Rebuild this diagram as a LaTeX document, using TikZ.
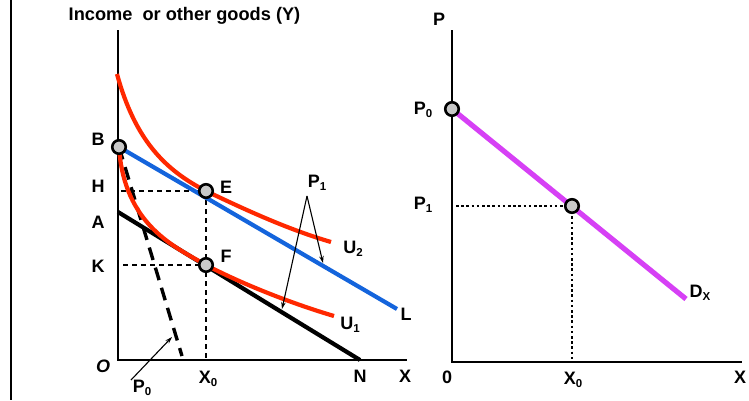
\documentclass[tikz,border=0pt]{standalone}
\usepackage{fontspec}
\setmainfont{Liberation Sans}
\usetikzlibrary{arrows.meta}
\definecolor{ured}{RGB}{255,40,0}
\definecolor{lblue}{RGB}{20,100,220}
\definecolor{dmag}{RGB}{214,64,245}
\definecolor{dotgray}{RGB}{200,200,200}
\newcommand{\sbs}[1]{\raisebox{-0.35ex}{\fontsize{11.5}{11.5}\selectfont #1}}
\tikzset{
  lbl/.style={font=\bfseries\fontsize{18}{18}\selectfont, inner sep=0pt},
  ttl/.style={font=\bfseries\fontsize{18.2}{18}\selectfont, inner sep=0pt},
  pt/.style={circle, draw=black, line width=2.6pt, fill=dotgray, minimum size=13.5pt, inner sep=0pt},
  axis/.style={line width=1.7pt, black},
  guide/.style={line width=1.4pt, dash pattern=on 5pt off 4pt},
  dotguide/.style={line width=2.8pt, dash pattern=on 2.6pt off 2.6pt},
  thinarrow/.style={line width=1.1pt, -{Stealth[length=7pt,width=4.5pt]}},
}
\begin{document}
\begin{tikzpicture}[x=1pt,y=-1pt]
\useasboundingbox (0,0) rectangle (749,400);
% left frame line
\draw[line width=2.4pt] (11,0) -- (11,400);

% ---------- left panel ----------
\coordinate (O) at (118,360);
\coordinate (Ytop) at (118,30);
\coordinate (Xend) at (407,360);
\draw[axis] (Ytop) -- (O) -- (Xend);
\node[ttl] (title) at (184.5,16) {Income\ \ or other goods (Y)};

\coordinate (B) at (119,147);
\coordinate (E) at (206,191);
\coordinate (F) at (206,265);
\coordinate (A) at (118,212);
\coordinate (N) at (360,360);
\coordinate (Lend) at (397,309);
\coordinate (Hl) at (121,191);
\coordinate (Kl) at (123,265);
\coordinate (X0b) at (206,360);
\coordinate (P0end) at (182,356);

% guides
\draw[guide] (Hl) -- (E);
\draw[guide] (Kl) -- (F);
\draw[guide] (E) -- (X0b);

% budget lines
\draw[line width=4.2pt, black] (A) -- (N);
\draw[line width=4.2pt, lblue] (B) -- (Lend);
% thick dashed P0 line
\draw[line width=3.4pt, dash pattern=on 13pt off 8pt] (B) -- (P0end);

% indifference curves
\draw[line width=4.2pt, ured] (117,74) .. controls (135,140) and (165,170) .. (E)
  .. controls (250,212) and (290,230) .. (331,242);
\draw[line width=4.2pt, ured] (B) .. controls (124,225) and (175,247) .. (F)
  .. controls (240,283) and (290,303) .. (334,316);

% points
\node[pt] (Bp) at (B) {};
\node[pt] (Ep) at (E) {};
\node[pt] (Fp) at (F) {};

% labels
\node[lbl] (Bl) at (98,139) {B};
\node[lbl] (Hlab) at (98,186) {H};
\node[lbl] (Al) at (98,222) {A};
\node[lbl] (Klab) at (98,266) {K};
\node[lbl] (El) at (226,187) {E};
\node[lbl] (Fl) at (226,256) {F};
\node[lbl] (U2) at (353,249) {U\sbs{2}};
\node[lbl] (U1) at (350,325) {U\sbs{1}};
\node[lbl] (Ll) at (406,314) {L};
\node[lbl, font=\bfseries\itshape\fontsize{18}{18}\selectfont] (Ol) at (103,366) {O};
\node[lbl] (X0l) at (208,379) {X\sbs{0}};
\node[lbl] (Nl) at (360,376) {N};
\node[lbl] (Xl) at (405,376) {X};
\node[lbl] (P0l) at (142,388) {P\sbs{0}};
\node[lbl] (P1l) at (317,183) {P\sbs{1}};

% arrows
\coordinate (P1apex) at (307,196);
\coordinate (P1a) at (323,263);
\coordinate (P1b) at (282,309);
\draw[thinarrow] (P1apex) -- (P1a);
\draw[thinarrow] (P1apex) -- (P1b);
\coordinate (P0tail) at (131,380);
\coordinate (P0head) at (172,337);
\draw[thinarrow] (P0tail) -- (P0head);

% ---------- right panel ----------
\coordinate (O2) at (452,362);
\coordinate (Y2top) at (452,30);
\coordinate (X2end) at (742,362);
\draw[axis] (Y2top) -- (O2) -- (X2end);
\coordinate (D0) at (452,109);
\coordinate (D1) at (572,206);
\coordinate (Dend) at (686,299);
\coordinate (P1y) at (456,206);
\coordinate (X0x) at (572,362);
\draw[dotguide] (P1y) -- (D1);
\draw[dotguide] (D1) -- (X0x);
\draw[line width=5.2pt, dmag] (D0) -- (Dend);
\node[pt] (D0p) at (D0) {};
\node[pt] (D1p) at (D1) {};

\node[lbl] (Pl) at (439,19) {P};
\node[lbl] (P0r) at (423,110) {P\sbs{0}};
\node[lbl] (P1r) at (423,205) {P\sbs{1}};
\node[lbl] (Dxl) at (700,293) {D\sbs{X}};
\node[lbl] (Zl) at (447,377) {0};
\node[lbl] (X0r) at (573,380) {X\sbs{0}};
\node[lbl] (X2l) at (740,377) {X};
\end{tikzpicture}
\end{document}
